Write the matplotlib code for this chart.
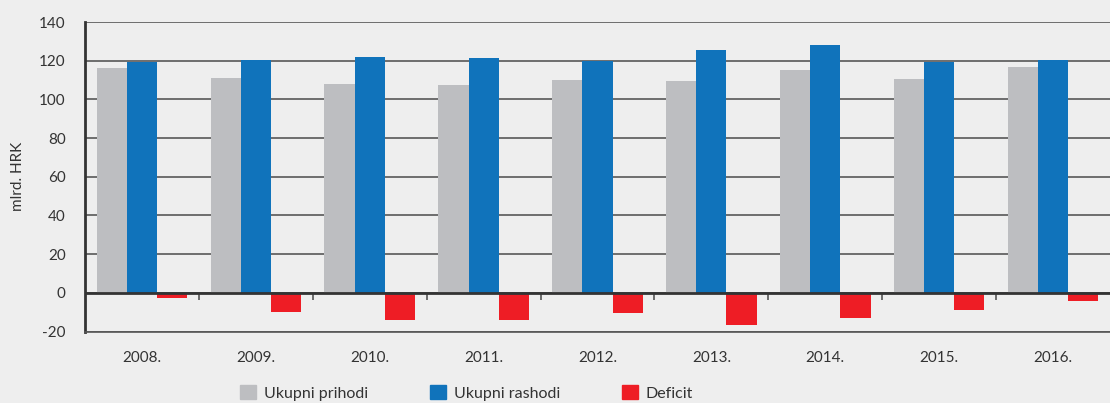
import matplotlib
matplotlib.use('Agg')

import matplotlib.pyplot as plt
import numpy as np
from matplotlib.patches import Patch

years = ['2008.', '2009.', '2010.', '2011.', '2012.', '2013.', '2014.', '2015.', '2016.']
prihodi = [116.4, 110.8, 108.0, 107.4, 109.9, 109.3, 115.0, 110.3, 116.5]
rashodi = [119.1, 120.6, 121.9, 121.3, 119.6, 125.3, 127.9, 119.1, 120.6]
deficit = [-2.6, -9.8, -14.0, -13.9, -10.2, -16.4, -12.9, -8.8, -4.1]

bg = '#eeeeee'
c_gray = '#bdbec1'
c_blue = '#1073bb'
c_red = '#ee1d25'

plt.rcParams['font.family'] = ['Lato', 'DejaVu Sans']

fig = plt.figure(figsize=(11.1, 4.03), dpi=100, facecolor=bg)
ax = fig.add_axes([85 / 1110, 1 - 331.5 / 403, 1 - 85 / 1110, (331.5 - 22) / 403])
ax.set_facecolor(bg)

x = np.arange(len(years))
w = 0.265
ax.bar(x - w, prihodi, w, color=c_gray, zorder=3)
ax.bar(x, rashodi, w, color=c_blue, zorder=3)
ax.bar(x + w, deficit, w, color=c_red, zorder=3)

ax.set_xlim(-0.5, len(years) - 0.5)
ax.set_ylim(-20, 140)
ax.set_yticks(range(-20, 141, 20))
ax.set_yticklabels([str(v) for v in range(-20, 141, 20)], fontsize=11, color='#333333')
ax.tick_params(axis='y', length=0, pad=14)
ax.yaxis.grid(True, color='#4a4a4a', linewidth=1.1, zorder=1)
ax.set_axisbelow(True)

ax.set_xticks(x)
ax.set_xticklabels(years, fontsize=11, color='#333333')
ax.tick_params(axis='x', length=0, pad=14)

ax.set_ylabel('mlrd. HRK', fontsize=11, color='#333333', labelpad=10)

for s in ['top', 'right']:
    ax.spines[s].set_visible(False)
ax.spines['left'].set_color('#333333')
ax.spines['left'].set_linewidth(2)
ax.spines['bottom'].set_color('#555555')
ax.spines['bottom'].set_linewidth(1.2)

# zero line with group separator ticks
ax.axhline(0, color='#333333', linewidth=2, zorder=4)
sec = ax.secondary_xaxis(20 / 160)
sec.set_xticks(np.arange(0.5, len(years) - 0.5, 1))
sec.set_xticklabels([])
sec.tick_params(direction='out', length=5, width=1.2, color='#555555')
sec.spines['bottom'].set_visible(False)

handles = [Patch(color=c_gray, label='Ukupni prihodi'),
           Patch(color=c_blue, label='Ukupni rashodi'),
           Patch(color=c_red, label='Deficit')]
fig.legend(handles=handles, loc='lower left', bbox_to_anchor=(226 / 1110, -0.03),
           ncol=3, frameon=False, fontsize=11.5, handlelength=1.0, handleheight=1.0,
           handletextpad=0.5, columnspacing=3.85, labelcolor='#333333')

fig.savefig('out.png', dpi=100, facecolor=bg)
